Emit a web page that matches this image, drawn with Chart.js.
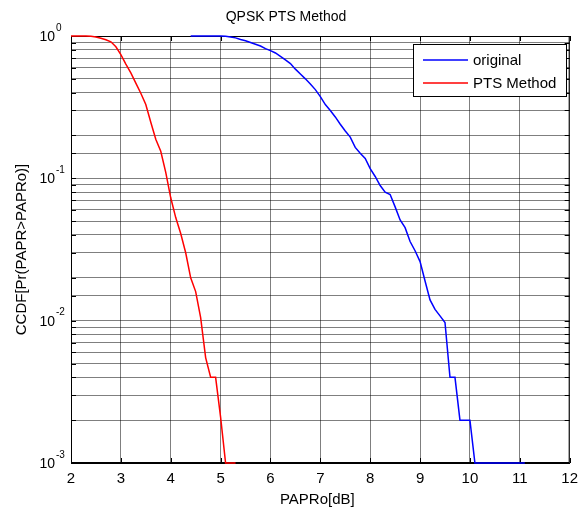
<!DOCTYPE html>
<html>
<head>
<meta charset="UTF-8">
<title>QPSK PTS Method</title>
<script src="https://cdn.jsdelivr.net/npm/chart.js"></script>
<style>
  html, body { margin: 0; padding: 0; background: #fff; }
  #wrap { width: 585px; height: 511px; }
</style>
</head>
<body>
<div id="wrap"><canvas id="ccdf" width="585" height="511"></canvas></div>
<script>
// PAPR0 values (dB) and CCDF values
const paprPts = [2.0, 2.1, 2.2, 2.3, 2.4, 2.5, 2.6, 2.7, 2.8, 2.9, 3.0, 3.1, 3.2, 3.3, 3.4, 3.5, 3.6, 3.7, 3.8, 3.9,
                 4.0, 4.1, 4.2, 4.3, 4.4, 4.5, 4.6, 4.7, 4.8, 4.9, 5.0, 5.1, 5.2, 5.3];
const ccdfPts = [1, 1, 1, 1, 0.995, 0.985, 0.965, 0.94, 0.91, 0.84, 0.74, 0.635, 0.55, 0.466, 0.396, 0.33, 0.248, 0.188, 0.155, 0.11,
                 0.073, 0.053, 0.041, 0.030, 0.020, 0.016, 0.0105, 0.0055, 0.004, 0.004, 0.0021, 0.001, 0.001, 0.001];

const paprOrig = [4.4, 4.5, 4.6, 4.7, 4.8, 4.9, 5.0, 5.1, 5.2, 5.3, 5.4, 5.5, 5.6, 5.7, 5.8, 5.9,
                  6.0, 6.1, 6.2, 6.3, 6.4, 6.5, 6.6, 6.7, 6.8, 6.9, 7.0, 7.1, 7.2, 7.3, 7.4, 7.5, 7.6, 7.7, 7.8, 7.9,
                  8.0, 8.1, 8.2, 8.3, 8.4, 8.5, 8.6, 8.7, 8.8, 8.9, 9.0, 9.1, 9.2, 9.3, 9.4, 9.5, 9.6, 9.7, 9.8, 9.9,
                  10.0, 10.1, 10.2, 10.3, 10.4, 10.5, 10.6, 10.7, 10.8, 10.9, 11.0, 11.1];
const ccdfOrig = [1, 1, 1, 1, 1, 1, 1, 0.995, 0.985, 0.97, 0.945, 0.925, 0.90, 0.875, 0.85, 0.815,
                  0.79, 0.76, 0.72, 0.68, 0.64, 0.585, 0.54, 0.50, 0.46, 0.42, 0.375, 0.33, 0.30, 0.27, 0.24, 0.215, 0.195, 0.165, 0.15, 0.138,
                  0.117, 0.103, 0.089, 0.080, 0.077, 0.063, 0.051, 0.045, 0.036, 0.031, 0.026, 0.019, 0.014, 0.012, 0.0108, 0.0097, 0.004, 0.004, 0.002, 0.002,
                  0.002, 0.001, 0.001, 0.001, 0.001, 0.001, 0.001, 0.001, 0.001, 0.001, 0.001, 0.001];

const xTicks = [2, 3, 4, 5, 6, 7, 8, 9, 10, 11, 12];
const yDecades = [-3, -2, -1, 0];
const seriesNames = ['original', 'PTS Method'];
const seriesColors = ['#0000ff', '#ff0000'];

const FONT = "'Liberation Sans', Arial, Helvetica, sans-serif";
Chart.defaults.font.family = FONT;
Chart.defaults.color = '#000';

function toPoints(xs, ys) {
    return xs.map((x, i) => ({ x: x, y: ys[i] }));
}

// matlab-ish bits: box + inward ticks under the lines, labels and legend on top
const matlabDecor = {
    id: 'matlabDecor',
    beforeDatasetsDraw(chart) {
        const ctx = chart.ctx;
        const a = chart.chartArea;
        const xs = chart.scales.x, ys = chart.scales.y;
        ctx.save();
        ctx.strokeStyle = '#000';
        ctx.lineWidth = 1;
        ctx.strokeRect(a.left + 0.5, a.top + 0.5, a.right - a.left - 1, a.bottom - a.top - 1);

        ctx.beginPath();
        xTicks.forEach(v => {
            const px = Math.round(xs.getPixelForValue(v)) + 0.5;
            ctx.moveTo(px, a.bottom); ctx.lineTo(px, a.bottom - 5);
            ctx.moveTo(px, a.top); ctx.lineTo(px, a.top + 5);
        });
        ys.ticks.forEach(t => {
            const py = Math.round(ys.getPixelForValue(t.value)) + 0.5;
            ctx.moveTo(a.left, py); ctx.lineTo(a.left + 5, py);
            ctx.moveTo(a.right, py); ctx.lineTo(a.right - 5, py);
        });
        ctx.stroke();
        ctx.restore();
    },
    afterDatasetsDraw(chart) {
        const ctx = chart.ctx;
        const a = chart.chartArea;
        const ys = chart.scales.y;
        ctx.save();

        // y tick labels 10^k
        ctx.fillStyle = '#000';
        yDecades.forEach(k => {
            const py = ys.getPixelForValue(Math.pow(10, k));
            ctx.font = '14px ' + FONT;
            ctx.textAlign = 'right';
            ctx.textBaseline = 'middle';
            ctx.fillText('10', a.left - 16, py + 1);
            ctx.font = '10px ' + FONT;
            ctx.textAlign = 'left';
            ctx.fillText(String(k), a.left - 15, py - 8);
        });

        // titles
        ctx.font = '14px ' + FONT;
        ctx.textAlign = 'center';
        ctx.textBaseline = 'middle';
        ctx.fillText('QPSK PTS Method', 286, 17);
        ctx.font = '15px ' + FONT;
        ctx.fillText('PAPRo[dB]', (a.left + a.right) / 2 - 3, 500);
        ctx.save();
        ctx.translate(22, (a.top + a.bottom) / 2);
        ctx.rotate(-Math.PI / 2);
        ctx.fillText('CCDF[Pr(PAPR>PAPRo)]', 0, 0);
        ctx.restore();

        // legend
        const lx = 413, ly = 44, lw = 153, lh = 52;
        ctx.fillStyle = '#fff';
        ctx.fillRect(lx, ly, lw, lh);
        ctx.strokeStyle = '#000';
        ctx.lineWidth = 1;
        ctx.strokeRect(lx + 0.5, ly + 0.5, lw, lh);
        ctx.font = '15px ' + FONT;
        ctx.textAlign = 'left';
        seriesNames.forEach((name, i) => {
            const yy = ly + 16 + i * 23;
            ctx.beginPath();
            ctx.strokeStyle = seriesColors[i];
            ctx.lineWidth = 1.5;
            ctx.moveTo(423, yy);
            ctx.lineTo(468, yy);
            ctx.stroke();
            ctx.fillStyle = '#000';
            ctx.fillText(name, 473, yy + 1);
        });
        ctx.restore();
    }
};

new Chart(document.getElementById('ccdf'), {
    type: 'line',
    data: {
        datasets: [
            {
                label: seriesNames[0],
                data: toPoints(paprOrig, ccdfOrig),
                borderColor: seriesColors[0],
                borderWidth: 1.5,
                pointRadius: 0,
                tension: 0,
                fill: false,
                clip: false
            },
            {
                label: seriesNames[1],
                data: toPoints(paprPts, ccdfPts),
                borderColor: seriesColors[1],
                borderWidth: 1.5,
                pointRadius: 0,
                tension: 0,
                fill: false,
                clip: false
            }
        ]
    },
    options: {
        responsive: false,
        animation: false,
        layout: { padding: { top: 36, right: 14, left: 0, bottom: 0 } },
        plugins: {
            legend: { display: false },
            title: { display: false },
            tooltip: { enabled: false }
        },
        scales: {
            x: {
                type: 'linear',
                min: 2,
                max: 12,
                afterBuildTicks: s => { s.ticks = xTicks.map(v => ({ value: v })); },
                afterFit: s => { s.height = 48; },
                ticks: { font: { size: 15 }, padding: 7, maxRotation: 0, autoSkip: false },
                grid: { color: 'rgba(0,0,0,0.5)', drawTicks: false },
                border: { color: '#000' }
            },
            y: {
                type: 'logarithmic',
                min: 0.001,
                max: 1,
                afterFit: s => { s.width = 71; },
                ticks: { callback: () => '', autoSkip: false },
                grid: { color: 'rgba(0,0,0,0.5)', drawTicks: false },
                border: { color: '#000' }
            }
        }
    },
    plugins: [matlabDecor]
});
</script>
</body>
</html>
